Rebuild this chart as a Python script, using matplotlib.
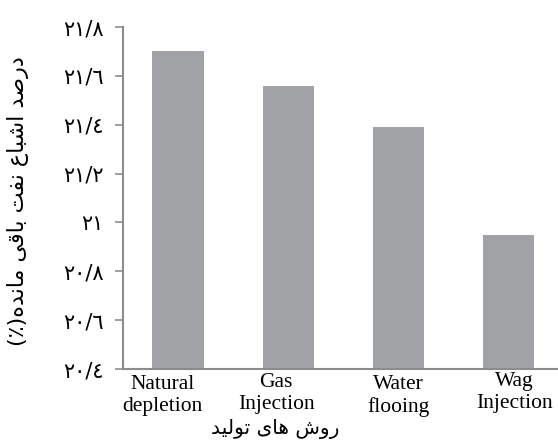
import matplotlib
matplotlib.use("Agg")
import matplotlib.pyplot as plt
import matplotlib.transforms as mtransforms

# داده‌ها
methods = ["Natural\ndepletion", "Gas\nInjection", "Water\nflooing", "Wag\nInjection"]
residual_oil = [21.70, 21.56, 21.39, 20.95]
y_ticks = [20.4, 20.6, 20.8, 21.0, 21.2, 21.4, 21.6, 21.8]
y_tick_labels = ["٢٠/٤", "٢٠/٦", "٢٠/٨", "٢١", "٢١/٢", "٢١/٤", "٢١/٦", "٢١/٨"]
y_label = "درصد اشباع نفت باقی مانده"
x_label = "روش های تولید"

# matplotlib حروف عربی را به هم نمی‌چسباند، پس شکل‌ها دستی انتخاب می‌شوند
FORMS = {  # isolated, final, initial, medial
    "ا": ("\uFE8D", "\uFE8E", None, None),
    "ب": ("\uFE8F", "\uFE90", "\uFE91", "\uFE92"),
    "ت": ("\uFE95", "\uFE96", "\uFE97", "\uFE98"),
    "د": ("\uFEA9", "\uFEAA", None, None),
    "ر": ("\uFEAD", "\uFEAE", None, None),
    "ش": ("\uFEB5", "\uFEB6", "\uFEB7", "\uFEB8"),
    "ص": ("\uFEB9", "\uFEBA", "\uFEBB", "\uFEBC"),
    "ع": ("\uFEC9", "\uFECA", "\uFECB", "\uFECC"),
    "ف": ("\uFED1", "\uFED2", "\uFED3", "\uFED4"),
    "ق": ("\uFED5", "\uFED6", "\uFED7", "\uFED8"),
    "ل": ("\uFEDD", "\uFEDE", "\uFEDF", "\uFEE0"),
    "م": ("\uFEE1", "\uFEE2", "\uFEE3", "\uFEE4"),
    "ن": ("\uFEE5", "\uFEE6", "\uFEE7", "\uFEE8"),
    "ه": ("\uFEE9", "\uFEEA", "\uFEEB", "\uFEEC"),
    "و": ("\uFEED", "\uFEEE", None, None),
    "ی": ("\uFBFC", "\uFBFD", "\uFBFE", "\uFBFF"),
}


def shape_word(w):
    out = []
    for i, c in enumerate(w):
        f = FORMS.get(c)
        if f is None:
            out.append(c)
            continue
        prev = w[i - 1] if i > 0 else None
        nxt = w[i + 1] if i + 1 < len(w) else None
        jp = prev in FORMS and FORMS[prev][2] is not None
        jn = nxt in FORMS and f[2] is not None
        if jp and jn:
            out.append(f[3])
        elif jp:
            out.append(f[1])
        elif jn:
            out.append(f[2])
        else:
            out.append(f[0])
    return "".join(out)[::-1]


def visual(text):
    return " ".join(shape_word(w) for w in text.split()[::-1])


plt.rcParams["font.family"] = ["Liberation Serif", "DejaVu Sans"]

fig = plt.figure(figsize=(5.58, 4.43), dpi=100)
ax = fig.add_axes([0.2204, 0.167, 0.79, 0.772])

x = range(len(methods))
ax.bar(x, [v - 20.4 for v in residual_oil], bottom=20.4, width=0.465, color="#a1a2a6")
ax.set_xlim(-0.5, 3.5)
ax.set_ylim(20.4, 21.8)
ax.set_xticks(list(x))
ax.set_xticklabels(methods, fontsize=15.5, linespacing=1.25)
ax.tick_params(axis="x", length=0, pad=4)
ax.set_yticks(y_ticks)
ax.set_yticklabels(y_tick_labels, fontsize=15, family="DejaVu Sans")
ax.tick_params(axis="y", length=6, width=1.2, color="#8c8c8c", pad=8)

# جابه‌جایی کوچک برچسب‌ها مثل تصویر اصلی (پیکسل)
shifts = [(-16, 0), (-12, 2), (0, 0), (6, 3)]
for lab, (dx, dy) in zip(ax.get_xticklabels(), shifts):
    lab.set_transform(lab.get_transform() +
                      mtransforms.ScaledTranslation(dx / 100, dy / 100, fig.dpi_scale_trans))

for s in ["top", "right"]:
    ax.spines[s].set_visible(False)
for s in ["left", "bottom"]:
    ax.spines[s].set_color("#8c8c8c")
    ax.spines[s].set_linewidth(1.5)

fig.text(0.033, 0.545, "(٪)" + visual(y_label), rotation=90, ha="center", va="center",
         fontsize=16, family="DejaVu Sans")
fig.text(0.493, 0.008, visual(x_label), ha="center", va="bottom",
         fontsize=14.5, family="DejaVu Sans")

fig.savefig("out.png", dpi=100)
